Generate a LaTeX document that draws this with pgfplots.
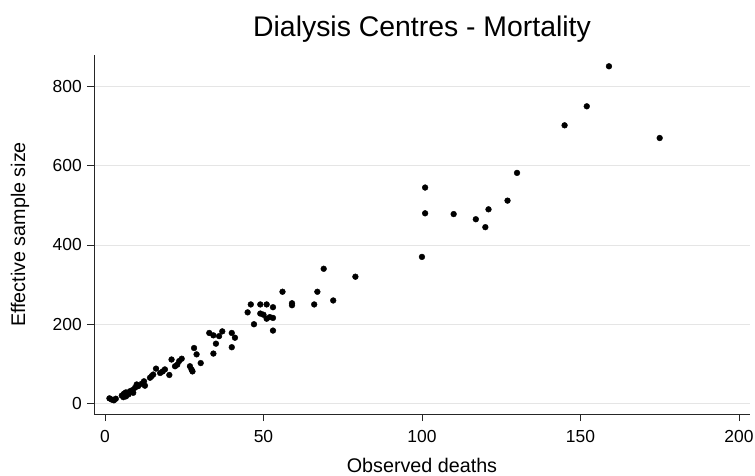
\documentclass[border=0pt]{standalone}
\usepackage{pgfplots}
\pgfplotsset{compat=1.18}
\usepackage{fontspec}
\setmainfont{Liberation Sans}
\begin{document}
\begin{tikzpicture}
\begin{axis}[
  scale only axis, width=656bp, height=359bp,
  xmin=-3.47, xmax=203.5, ymin=-26.5, ymax=879.5,
  axis x line*=bottom, axis y line*=left,
  axis line style={-, line width=0.8bp, color=black!85},
  xtick={0,50,...,200}, ytick={0,200,...,800},
  tick align=outside, major tick length=7bp,
  tick style={line width=0.8bp, color=black!85},
  ymajorgrids, grid style={line width=0.8bp, color=black!10},
  /pgf/number format/assume math mode=true,
  ticklabel style={font=\fontsize{17.5}{19}\selectfont},
  xticklabel style={anchor=north, inner sep=0pt},
  xticklabel shift=9bp,
  yticklabel style={anchor=east, inner sep=0pt},
  yticklabel shift=5bp,
  title={Dialysis Centres - Mortality},
  title style={font=\fontsize{28.5}{30}\selectfont, anchor=base, at={(axis description cs:0.5,1)}, yshift=13bp},
  xlabel={Observed deaths},
  xlabel style={font=\fontsize{19.8}{21}\selectfont, anchor=base, inner sep=0pt, at={(axis description cs:0.5,-0.164)}},
  ylabel={Effective sample size},
  ylabel style={font=\fontsize{19.8}{21}\selectfont, anchor=center, at={(axis description cs:-0.1128,0.5)}},
]
\addplot[only marks, mark=*, mark size=2.9bp, color=black] coordinates {
(1.4,13) (2.1,10) (2.8,8) (3.4,12)
(5.3,20) (5.8,16) (6,25) (6.6,28) (6.6,18) (7.4,23)
(7.9,31) (8.7,34) (8.9,27) (9.5,40) (10,48) (10.5,44) (11.6,50) (12.3,56) (12.6,45)
(14.2,65) (14.7,69) (15.2,73) (16.1,88) (17.4,77) (18.2,81) (18.9,86) (20.3,72)
(21,111) (22.1,94) (22.8,98) (23.4,107) (24.2,113)
(26.8,94) (27.3,86) (27.6,81) (28.1,140) (28.9,124) (30.2,102)
(32.9,178) (34.2,172) (35,151) (34.2,126) (36,170) (37,182) (40,178) (41,166) (40,142)
(45,230) (46,250) (47,200) (49,250) (49,227) (50,224) (51,250) (51,214) (52,218) (53,216) (53,243) (53,184)
(56,282) (59,253) (59,248)
(66,250) (67,282) (69,340) (72,260) (79,320)
(100,370) (101,545) (101,480) (110,478) (117,465) (120,445) (121,490) (127,512) (130,582)
(145,702) (152,750) (159,851) (175,670)
};
\end{axis}
\pgfresetboundingbox
\path (current axis.south west) ++(-94bp,-62bp) rectangle ++(755bp,476bp);
\end{tikzpicture}
\end{document}
